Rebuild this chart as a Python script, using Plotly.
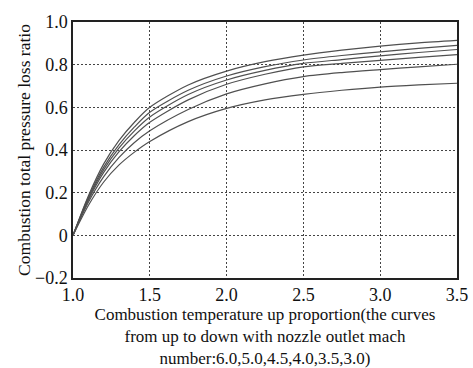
import plotly.graph_objects as go

# Temperature rise proportion (x)
temp_ratio = [1.0, 1.1, 1.2, 1.3, 1.4, 1.5, 1.75, 2.0, 2.25, 2.5, 2.75, 3.0, 3.25, 3.5]

# Combustion total pressure loss ratio, nozzle outlet Mach numbers (top to bottom)
mach_labels = ["6.0", "5.0", "4.5", "4.0", "3.5", "3.0"]
loss_m60 = [0, 0.185, 0.335, 0.445, 0.530, 0.600, 0.705, 0.770, 0.814, 0.845, 0.868, 0.887, 0.902, 0.914]
loss_m50 = [0, 0.178, 0.320, 0.425, 0.508, 0.577, 0.680, 0.747, 0.791, 0.822, 0.843, 0.860, 0.876, 0.890]
loss_m45 = [0, 0.172, 0.308, 0.410, 0.490, 0.555, 0.660, 0.728, 0.773, 0.806, 0.824, 0.841, 0.857, 0.871]
loss_m40 = [0, 0.165, 0.295, 0.392, 0.468, 0.530, 0.635, 0.708, 0.755, 0.790, 0.806, 0.820, 0.834, 0.847]
loss_m35 = [0, 0.155, 0.275, 0.365, 0.435, 0.490, 0.590, 0.663, 0.710, 0.744, 0.763, 0.777, 0.790, 0.802]
loss_m30 = [0, 0.140, 0.250, 0.330, 0.390, 0.440, 0.533, 0.595, 0.635, 0.661, 0.680, 0.695, 0.705, 0.713]

x_ticks = [1.0, 1.5, 2.0, 2.5, 3.0, 3.5]
x_ticktext = ["1.0", "1.5", "2.0", "2.5", "3.0", "3.5"]
y_ticks = [-0.2, 0, 0.2, 0.4, 0.6, 0.8, 1.0]
y_ticktext = ["\u22120.2", "0", "0.2", "0.4", "0.6", "0.8", "1.0"]

font_family = "Liberation Serif, Times New Roman, serif"

fig = go.Figure()
for name, vals in zip(mach_labels, [loss_m60, loss_m50, loss_m45, loss_m40, loss_m35, loss_m30]):
    fig.add_trace(go.Scatter(
        x=temp_ratio, y=vals, mode="lines", name="Ma " + name,
        line=dict(color="#505050", width=1.2, shape="spline", smoothing=0.8),
        showlegend=False,
    ))

axis_common = dict(
    showline=True, linecolor="#222", linewidth=1.5, mirror=True,
    showgrid=True, gridcolor="#444", gridwidth=1, griddash="2px,2px",
    zeroline=False, ticks="",
    tickfont=dict(family=font_family, size=18, color="#111"),
)

fig.update_layout(
    width=473, height=368,
    margin=dict(l=73, r=16, t=19, b=90),
    paper_bgcolor="white", plot_bgcolor="white",
    font=dict(family=font_family, color="#111"),
    xaxis=dict(
        range=[1.0, 3.5], tickvals=x_ticks, ticktext=x_ticktext, automargin=False,
        title=dict(
            text="Combustion temperature up proportion(the curves<br>from up to down with nozzle outlet mach<br>number:6.0,5.0,4.5,4.0,3.5,3.0)",
            font=dict(family=font_family, size=17, color="#111"),
        ),
        **axis_common,
    ),
    yaxis=dict(
        range=[-0.2, 1.0], tickvals=y_ticks, ticktext=y_ticktext, automargin=True,
        title=dict(
            text="Combustion total pressure loss ratio",
            font=dict(family=font_family, size=17.5, color="#111"), standoff=0,
        ),
        **axis_common,
    ),
)

fig.write_html("out.html")
